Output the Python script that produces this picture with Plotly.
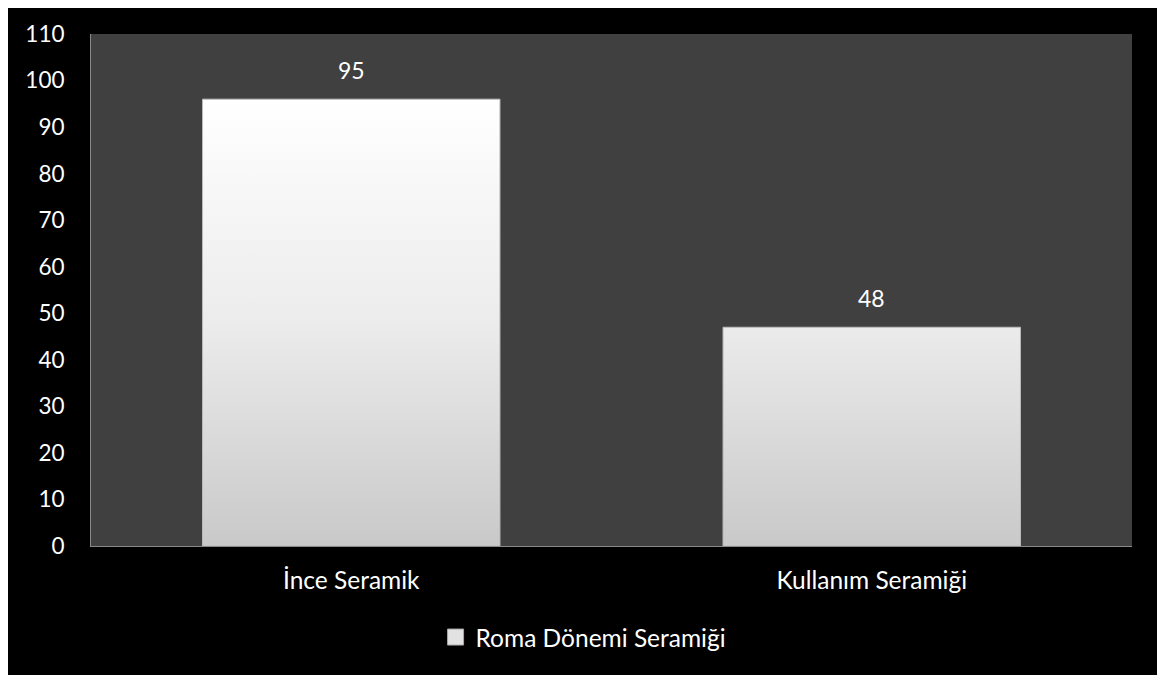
import plotly.graph_objects as go

categories = ["İnce Seramik", "Kullanım Seramiği"]
values = [96, 47]
value_labels = ["95", "48"]
series_name = "Roma Dönemi Seramiği"
y_ticks = list(range(0, 111, 10))

FONT = "Lato"
half = 0.2857

fig = go.Figure()
xs, ys = [], []
for i, v in enumerate(values):
    xs += [i - half, i + half, i + half, i - half, i - half, None]
    ys += [0, 0, v, v, 0, None]
fig.add_trace(go.Scatter(
    x=xs, y=ys, mode="lines", fill="toself",
    line=dict(width=1, color="#bcbcbc"),
    fillgradient=dict(type="vertical",
                      colorscale=[[0, "#c9c9c9"], [0.5, "#ececec"], [1, "#ffffff"]]),
    name=series_name, showlegend=False, hoverinfo="skip",
))
# legend entry (square swatch like the reference)
fig.add_trace(go.Scatter(
    x=[None], y=[None], mode="markers", name=series_name,
    marker=dict(symbol="square", size=16, color="#e2e2e2",
                line=dict(width=1, color="#a8a8a8")),
    showlegend=True,
))

for i, (v, t) in enumerate(zip(values, value_labels)):
    fig.add_annotation(x=i, y=v, text=t, showarrow=False, yanchor="bottom",
                       yshift=13, font=dict(family=FONT, size=23, color="white"))

fig.update_layout(
    width=1157, height=667,
    margin=dict(l=83, r=33, t=26, b=129),
    paper_bgcolor="black", plot_bgcolor="#404040",
    font=dict(family=FONT, size=22, color="white"),
    shapes=[
        dict(type="rect", xref="paper", yref="paper", x0=1.0288, x1=1.2,
             y0=-0.5, y1=1.5, fillcolor="white", line=dict(width=0), layer="below"),
    ],
    xaxis=dict(range=[-0.5, 1.5], tickvals=list(range(len(categories))),
               ticktext=categories, showgrid=False, zeroline=False,
               showline=True, linecolor="#8a8a8a", linewidth=1,
               tickfont=dict(size=24.5),
               ticks="", ticklabelstandoff=13, fixedrange=True),
    yaxis=dict(range=[0, 110], tickvals=y_ticks, showgrid=False, zeroline=False,
               showline=True, linecolor="#8a8a8a", linewidth=1,
               tickfont=dict(size=22.5),
               ticks="", ticklabelstandoff=21, fixedrange=True),
    legend=dict(orientation="h", x=0.331, xanchor="left", y=-0.178, yanchor="middle",
                font=dict(family=FONT, size=24.5, color="white"), bgcolor="rgba(0,0,0,0)"),
)

fig.write_html("out.html")
